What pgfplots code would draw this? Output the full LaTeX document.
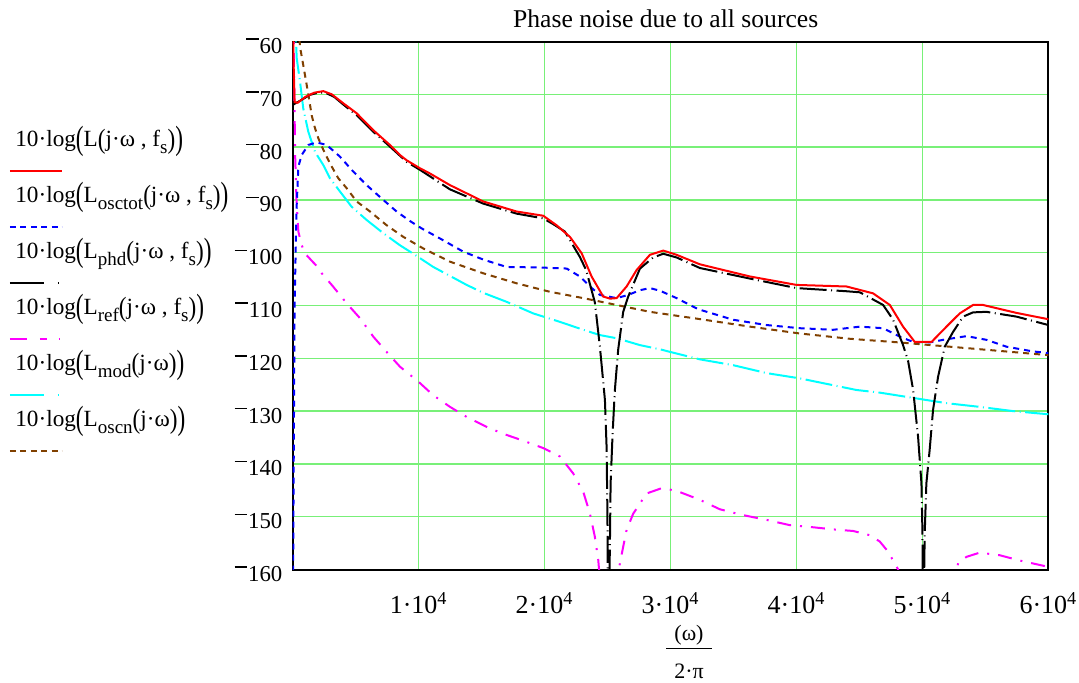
\documentclass[border=0pt]{standalone}
\usepackage{fontspec}
\setmainfont{Liberation Serif}
\usepackage{graphicx}
\usepackage{pgfplots}
\pgfplotsset{compat=1.18}
\definecolor{gridgreen}{RGB}{120,240,120}
\definecolor{oscbrown}{RGB}{128,64,0}
\definecolor{mcyan}{RGB}{0,255,255}
\definecolor{mmag}{RGB}{255,0,255}
\definecolor{mred}{RGB}{255,0,0}
\definecolor{mblue}{RGB}{0,0,255}
\newcommand{\mn}{\rule[0.6em]{0.55em}{0.065em}\kern0.04em}
\newcommand{\lp}{\raisebox{-0.12em}{\scalebox{1}[1.45]{(}}}
\newcommand{\rp}{\raisebox{-0.12em}{\scalebox{1}[1.45]{)}}}
\newcommand{\lpi}{\raisebox{-0.06em}{\scalebox{1}[1.2]{(}}}
\newcommand{\rpi}{\raisebox{-0.06em}{\scalebox{1}[1.2]{)}}}
\newcommand{\sub}[1]{\raisebox{-0.28em}{\fontsize{9.5}{9.5}\selectfont #1}}
\newcommand{\lfont}{\fontsize{11}{13}\selectfont}
\newcommand{\legfont}{\fontsize{11.6}{13}\selectfont}
\newcommand{\xfont}{\fontsize{13}{15}\selectfont}
\tikzset{
  blackdash/.style={dash pattern=on 13.5pt off 2.25pt on 0.5pt off 2.25pt},
  bluedash/.style={dash pattern=on 3pt off 2.5pt},
  magdash/.style={dash pattern=on 7pt off 4.5pt on 1pt off 4.5pt},
  browndash/.style={dash pattern=on 3pt off 2.5pt},
}
\begin{document}
\begin{tikzpicture}[x=1pt,y=1pt]
\useasboundingbox (-146.35,-56.25) rectangle (393.15,284.75);
\begin{axis}[
  at={(0,0)}, anchor=south west, scale only axis,
  width=377.85pt, height=264pt,
  xmin=0, xmax=60000, ymin=-160, ymax=-60,
  xtick={10000,20000,30000,40000,50000,60000},
  xticklabels={1·10\textsuperscript{4},2·10\textsuperscript{4},3·10\textsuperscript{4},4·10\textsuperscript{4},5·10\textsuperscript{4},6·10\textsuperscript{4}},
  ytick={-160,-150,-140,-130,-120,-110,-100,-90,-80,-70,-60},
  yticklabels={\mn160,\mn150,\mn140,\mn130,\mn120,\mn110,\mn100,\mn90,\mn80,\mn70,\mn60},
  grid=major, major grid style={gridgreen, line width=0.75pt},
  major tick length=0pt,
  axis line style={black, line width=1pt},
  yticklabel style={font=\fontsize{11.4}{13}\selectfont, anchor=east, xshift=-5pt, yshift=-2.3pt, inner sep=0pt},
  xticklabel style={font=\xfont, anchor=base, yshift=-21.75pt, inner sep=0pt},
  scaled x ticks=false,
  every axis plot/.append style={line width=1pt},
  clip=true,
]
% L_oscn (brown)
\addplot[oscbrown, browndash] coordinates {
(0,-20) (300,-52) (580,-61.0) (840,-64.5) (1240,-70.0) (1510,-74.0) (1770,-76.4) (2030,-78.3) (2430,-80.5) (2960,-83.1) (3620,-85.9) (4290,-87.8) (5080,-90.3) (6140,-92.2) (7460,-94.8) (8780,-97.0) (10370,-99.2) (12490,-101.7) (15130,-103.9) (17780,-105.8) (20420,-107.4) (23070,-108.6) (25720,-109.9) (28360,-111.2) (32400,-112.6) (36300,-114.0) (40260,-115.3) (44230,-116.3) (48200,-117.0) (52160,-117.8) (56130,-118.6) (60000,-119.4)};
% L_mod (cyan)
\addplot[mcyan, blackdash] coordinates {
(0,-40) (150,-54) (320,-63.2) (580,-67.6) (840,-72.7) (1240,-77.1) (1770,-80.9) (2430,-83.4) (2960,-85.9) (3750,-88.4) (4680,-91.3) (5870,-93.8) (7190,-96.3) (8520,-98.6) (9710,-100.4) (11160,-102.7) (12490,-104.4) (13810,-106.1) (15130,-107.6) (16980,-109.3) (19100,-111.5) (21220,-113.1) (23070,-114.6) (24390,-115.6) (25720,-116.2) (27570,-117.5) (29160,-118.3) (32330,-120.2) (34970,-121.3) (37620,-122.8) (40260,-123.8) (44760,-126.0) (46610,-126.5) (49260,-127.5) (51910,-128.5) (54550,-129.2) (57200,-130.0) (60000,-130.6)};
% L_ref (magenta)
\addplot[mmag, magdash] coordinates {
(0,-30) (100,-65) (200,-82) (300,-90) (450,-96.0) (700,-98.5) (1000,-100.2) (1500,-101.5) (1900,-102.5) (2400,-104.2) (3100,-106.1) (4290,-109.6) (5340,-112.4) (6400,-115.9) (7460,-118.8) (8520,-121.6) (9970,-124.4) (11160,-127.0) (12490,-129.2) (13810,-131.1) (15400,-133.0) (16720,-134.3) (18300,-135.6) (19890,-137.0) (21220,-138.6) (22270,-141.8) (23070,-145.3) (23600,-149.4) (23990,-153.8) (24260,-158.2) (24500,-165) (25000,-180) (25600,-165) (25980,-158.8) (26240,-155.7) (26510,-152.5) (27040,-149.4) (28100,-145.6) (29290,-144.6) (30480,-145.1) (32330,-146.8) (33920,-148.6) (35760,-149.7) (37620,-150.6) (39470,-151.6) (41320,-152.0) (42910,-152.4) (44490,-152.7) (45820,-153.5) (46610,-154.7) (47270,-156.6) (48070,-160) (48500,-165) (50000,-180) (52300,-165) (52830,-158.8) (53500,-157.6) (54550,-156.8) (56140,-157.3) (57730,-158.3) (60000,-159.5)};
% L_osctot (blue)
\addplot[mblue, bluedash] coordinates {
(0,-175) (150,-110) (300,-92) (450,-83.7) (710,-81.5) (1240,-79.6) (1900,-79.1) (2700,-79.6) (3750,-81.8) (4680,-84.3) (5870,-87.2) (7190,-90.0) (8250,-92.2) (9310,-94.0) (10240,-95.4) (11690,-97.3) (13540,-99.8) (15130,-101.3) (16980,-102.7) (19630,-102.8) (21750,-103.0) (22800,-104.5) (23600,-106.4) (24390,-108.0) (25720,-108.6) (26640,-108.0) (27570,-107.1) (28360,-106.7) (29160,-107.2) (30480,-108.6) (32190,-110.7) (34970,-112.7) (37620,-113.7) (40260,-114.3) (42910,-114.6) (45030,-114.0) (46880,-114.3) (48200,-115.9) (49260,-116.9) (50580,-117.0) (51640,-116.5) (53500,-115.8) (55080,-116.5) (56670,-117.8) (58780,-118.7) (60000,-119.0)};
% L_phd (black)
\addplot[black, blackdash] coordinates {
(0,-72.0) (600,-71.2) (1370,-70.1) (2000,-69.7) (2600,-69.7) (3300,-70.5) (4100,-72.1) (5100,-74.0) (6400,-77.1) (7720,-79.9) (9050,-82.8) (10100,-84.3) (12485,-88.0) (15130,-90.7) (17780,-92.6) (19890,-93.5) (20690,-94.6) (21610,-96.0) (22800,-100.8) (23300,-103.3) (23990,-109.4) (24390,-117.8) (24790,-127.9) (24920,-136.7) (24990,-150) (25050,-175) (25180,-156.3) (25240,-143.7) (25400,-134.2) (25580,-126.0) (25840,-118.4) (26240,-111.2) (26640,-108.3) (27570,-103.0) (28620,-100.9) (29420,-100.2) (30480,-100.9) (32330,-102.9) (36300,-104.9) (40000,-106.7) (43970,-107.3) (45030,-107.5) (46880,-109.9) (47670,-112.7) (48460,-117.5) (48860,-120.5) (49260,-126.0) (49650,-134.8) (49920,-143.7) (50000,-153) (50050,-175) (50180,-153.1) (50310,-143.7) (50570,-137.4) (50840,-129.8) (51240,-123.5) (51770,-117.8) (52430,-115.0) (53230,-112.1) (54020,-111.3) (55080,-111.2) (57460,-112.1) (60000,-113.7)};
% L total (red)
\addplot[mred] coordinates {
(0,-50) (60,-63) (150,-71.5) (400,-71.6) (1000,-70.5) (1700,-69.7) (2430,-69.4) (3100,-70.0) (4016,-71.7) (5080,-73.6) (6400,-76.8) (7720,-79.6) (8516,-81.5) (9050,-82.5) (10100,-84.0) (10900,-85.0) (12485,-87.2) (15130,-90.3) (17780,-92.2) (19890,-93.0) (20950,-94.8) (22010,-97.0) (22940,-100.1) (23730,-104.5) (24650,-108.3) (25200,-108.7) (25720,-108.6) (26510,-106.4) (27300,-103.3) (28360,-100.4) (29420,-99.6) (30480,-100.4) (32330,-102.2) (36300,-104.5) (40000,-106.1) (43970,-106.4) (46080,-107.7) (47410,-109.9) (48460,-114.0) (49390,-116.9) (50720,-116.9) (51910,-114.0) (52960,-111.5) (54020,-109.9) (54810,-109.9) (57460,-111.4) (60000,-112.6)};
\end{axis}
% title
\node[anchor=base, font=\fontsize{12.8}{15}\selectfont, inner sep=0pt] at (186.5,271.25) {Phase noise due to all sources};
% x label as fraction
\node[anchor=base, font=\lfont, inner sep=0pt] at (198.15,-35.25) {(ω)};
\draw[line width=0.7pt] (186.7,-39.4) -- (209.6,-39.4);
\node[anchor=base, font=\lfont, inner sep=0pt] at (198.15,-54.5) {2·π};
% legend
\begin{scope}[every node/.style={anchor=base west, inner sep=0pt, font=\legfont}]
\node at (-138.85,211.4) {10·log\lp L\lpi j·ω , f\sub{s}\rpi\rp};
\draw[mred, line width=1pt] (-141.35,199.4) -- (-115.35,199.4);
\node at (-138.85,183.4) {10·log\lp L\sub{osctot}\lpi j·ω , f\sub{s}\rpi\rp};
\draw[mblue, line width=1pt, dash pattern=on 3pt off 2.2pt] (-141.35,171.4) -- (-115.35,171.4);
\node at (-138.85,155.4) {10·log\lp L\sub{phd}\lpi j·ω , f\sub{s}\rpi\rp};
\draw[black, line width=1pt, dash pattern=on 17pt off 7pt on 0.6pt off 10pt] (-141.35,143.4) -- (-115.35,143.4);
\node at (-138.85,127.4) {10·log\lp L\sub{ref}\lpi j·ω , f\sub{s}\rpi\rp};
\draw[mmag, line width=1pt, dash pattern=on 8.5pt off 6.5pt on 3.5pt off 6pt on 0.6pt off 10pt] (-141.35,115.4) -- (-115.35,115.4);
\node at (-138.85,99.4) {10·log\lp L\sub{mod}\lpi j·ω\rpi\rp};
\draw[mcyan, line width=1pt, dash pattern=on 17pt off 7pt on 0.6pt off 10pt] (-141.35,87.4) -- (-115.35,87.4);
\node at (-138.85,71.4) {10·log\lp L\sub{oscn}\lpi j·ω\rpi\rp};
\draw[oscbrown, line width=1pt, dash pattern=on 3pt off 2.2pt] (-141.35,59.4) -- (-115.35,59.4);
\end{scope}
\end{tikzpicture}
\end{document}
